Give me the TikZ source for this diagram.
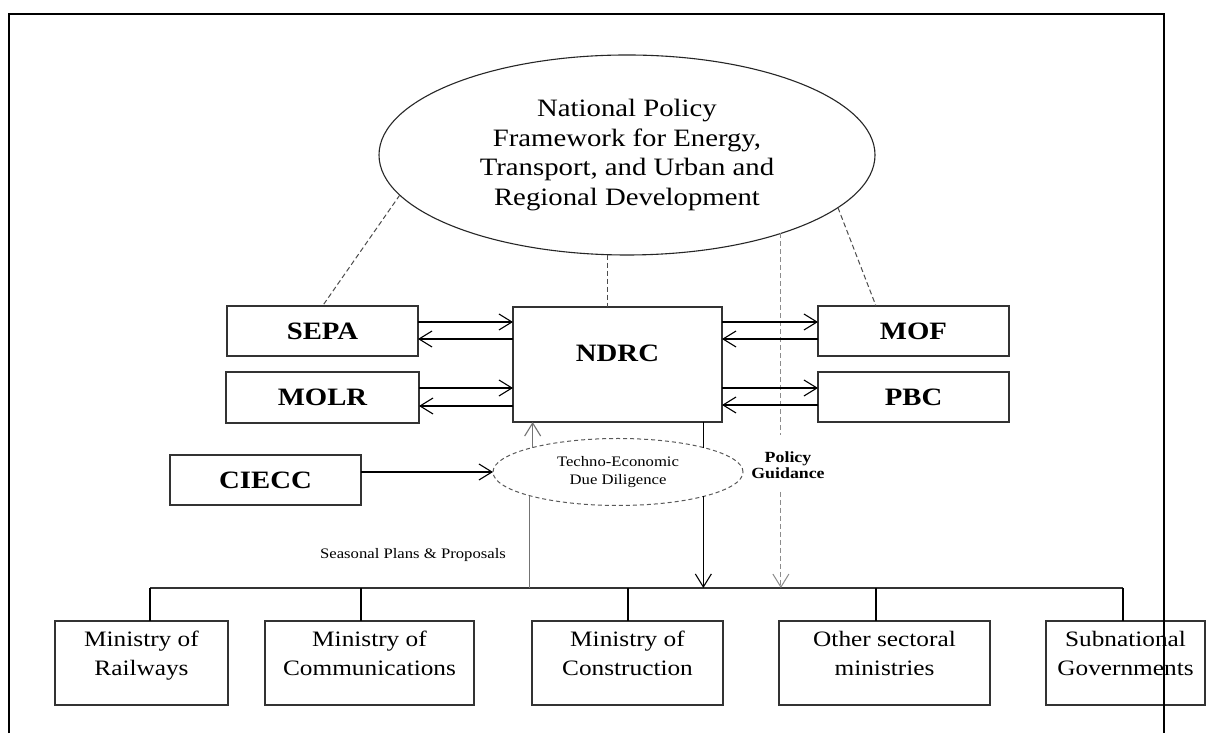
\documentclass[tikz,border=0pt]{standalone}
\usepackage{fontspec}
\setmainfont{Liberation Serif}[FakeStretch=1.15]
\usetikzlibrary{arrows.meta,shapes.geometric,calc}
\begin{document}
\begin{tikzpicture}[x=1pt,y=1pt,
  box/.style={draw=black!80,line width=1.2pt,rectangle,inner sep=0pt,outer sep=0pt},
  bigtxt/.style={font=\fontsize{25}{29}\selectfont\bfseries},
  mtext/.style={font=\fontsize{22}{29}\selectfont,align=center,inner sep=0pt},
  conn/.style={line width=1.1pt,draw=black},
  gconn/.style={line width=1.1pt,draw=black!55},
  oarr/.style={-{Straight Barb[length=13pt,width=16pt]}},
  dline/.style={line width=1pt,draw=black!70,dash pattern=on 5pt off 3pt},
  pline/.style={line width=1pt,draw=black!45,dash pattern=on 5pt off 3pt}
]
\useasboundingbox (0,0) rectangle (1209,733);
\fill[white] (0,0) rectangle (1209,733);

% top ellipse
\node[ellipse,draw=black!85,line width=1.1pt,minimum width=496pt,minimum height=200pt,inner sep=0pt,outer sep=0pt,
      align=center,font=\fontsize{25}{29.5}\selectfont] (npf) at (627,578)
  {National Policy\\Framework for Energy,\\Transport, and Urban and\\Regional Development};

% boxes
\node[box,minimum width=191pt,minimum height=50pt,bigtxt] (sepa) at (322.5,402) {SEPA};
\node[box,minimum width=193pt,minimum height=51pt,bigtxt] (molr) at (322.5,335.5) {MOLR};
\node[box,minimum width=209pt,minimum height=115pt] (ndrc) at (617.5,368.5) {};
\node[bigtxt,inner sep=0pt] (ndrct) at ([yshift=11.5pt]ndrc.center) {NDRC};
\node[box,minimum width=191pt,minimum height=50pt,bigtxt] (mof) at (913.5,402) {MOF};
\node[box,minimum width=191pt,minimum height=50pt,bigtxt] (pbc) at (913.5,336) {PBC};
\node[box,minimum width=191pt,minimum height=50pt,bigtxt] (ciecc) at (265.5,253) {CIECC};

% techno-economic ellipse
\node[ellipse,draw=black!65,line width=1pt,dash pattern=on 4pt off 3pt,minimum width=250pt,minimum height=67pt,
      inner sep=0pt,outer sep=0pt,align=center,font=\fontsize{14.5}{18}\selectfont] (te) at (618,261)
  {Techno-Economic\\Due Diligence};

% labels
\node[font=\fontsize{14.5}{18}\selectfont,inner sep=0pt] (spp) at (413,178) {Seasonal Plans \& Proposals};
\node[font=\fontsize{15.5}{16.5}\selectfont\bfseries,align=center,inner sep=0pt] (pg) at (788,268) {Policy\\Guidance};

% ministry boxes
\node[box,minimum width=173pt,minimum height=84pt] (rail) at (141.5,70) {};
\node[box,minimum width=209pt,minimum height=84pt] (comm) at (369.5,70) {};
\node[box,minimum width=191pt,minimum height=84pt] (cons) at (627.5,70) {};
\node[box,minimum width=211pt,minimum height=84pt] (oth) at (884.5,70) {};
\node[box,minimum width=159pt,minimum height=84pt] (sub) at (1125.5,70) {};
\node[mtext] (railt) at ([yshift=7.5pt]rail.center) {Ministry of\strut\\Railways\strut};
\node[mtext] (commt) at ([yshift=7.5pt]comm.center) {Ministry of\strut\\Communications\strut};
\node[mtext] (const) at ([yshift=7.5pt]cons.center) {Ministry of\strut\\Construction\strut};
\node[mtext] (otht) at ([yshift=7.5pt]oth.center) {Other sectoral\strut\\ministries\strut};
\node[mtext] (subt) at ([yshift=7.5pt]sub.center) {Subnational\strut\\Governments\strut};

% bus
\coordinate (busL) at (150,145);
\coordinate (busR) at (1123,145);
\coordinate (d2) at (361,145);
\coordinate (d3) at (628,145);
\coordinate (d4) at (876,145);
\draw[conn,draw=black!80] (busL) -- (busR);
\draw[conn] (busL) -- (busL |- rail.north);
\draw[conn] (d2) -- (d2 |- comm.north);
\draw[conn] (d3) -- (d3 |- cons.north);
\draw[conn] (d4) -- (d4 |- oth.north);
\draw[conn] (busR) -- (busR |- sub.north);

% dashed links from the policy framework
\draw[dline] (npf.190.5) -- (sepa.north);
\draw[dline] (npf.259.2) -- (npf.259.2 |- ndrc.north);
\draw[dline] (npf.-14.5) -- ($(mof.north west)+(58,0)$);

% policy guidance
\coordinate (pgtop) at (npf.-27.2 |- 0,298);
\coordinate (pgbot) at (npf.-27.2 |- 0,241);
\draw[pline] (npf.-27.2) -- (pgtop);
\draw[pline,oarr,line width=1pt] (pgbot) -- (pgbot |- busL);

% exchanges with NDRC
\draw[conn,oarr] ([yshift=9pt]sepa.east) -- ([yshift=9pt]sepa.east -| ndrc.west);
\draw[conn,oarr] ([yshift=-8pt]sepa.east -| ndrc.west) -- ([yshift=-8pt]sepa.east);
\draw[conn,oarr] ([yshift=9.5pt]molr.east) -- ([yshift=9.5pt]molr.east -| ndrc.west);
\draw[conn,oarr] ([yshift=-8.5pt]molr.east -| ndrc.west) -- ([yshift=-8.5pt]molr.east);
\draw[conn,oarr] ([yshift=9pt]mof.west -| ndrc.east) -- ([yshift=9pt]mof.west);
\draw[conn,oarr] ([yshift=-8pt]mof.west) -- ([yshift=-8pt]mof.west -| ndrc.east);
\draw[conn,oarr] ([yshift=9pt]pbc.west -| ndrc.east) -- ([yshift=9pt]pbc.west);
\draw[conn,oarr] ([yshift=-8pt]pbc.west) -- ([yshift=-8pt]pbc.west -| ndrc.east);

% CIECC to due diligence
\draw[conn,oarr] (ciecc.east |- te.west) -- (te.west);

% seasonal plans up to NDRC
\draw[gconn] (te.195.8 |- busL) -- (te.195.8);
\draw[gconn,oarr] (te.164.2) -- (te.164.2 |- ndrc.south);

% NDRC down to ministries
\draw[conn] (te.16.1 |- ndrc.south) -- (te.16.1);
\draw[conn,oarr] (te.-16.1) -- (te.-16.1 |- busL);

% frame
\draw[line width=2.6pt,black] (9,0) -- (9,719) -- (1164,719) -- (1164,0);
\end{tikzpicture}
\end{document}
